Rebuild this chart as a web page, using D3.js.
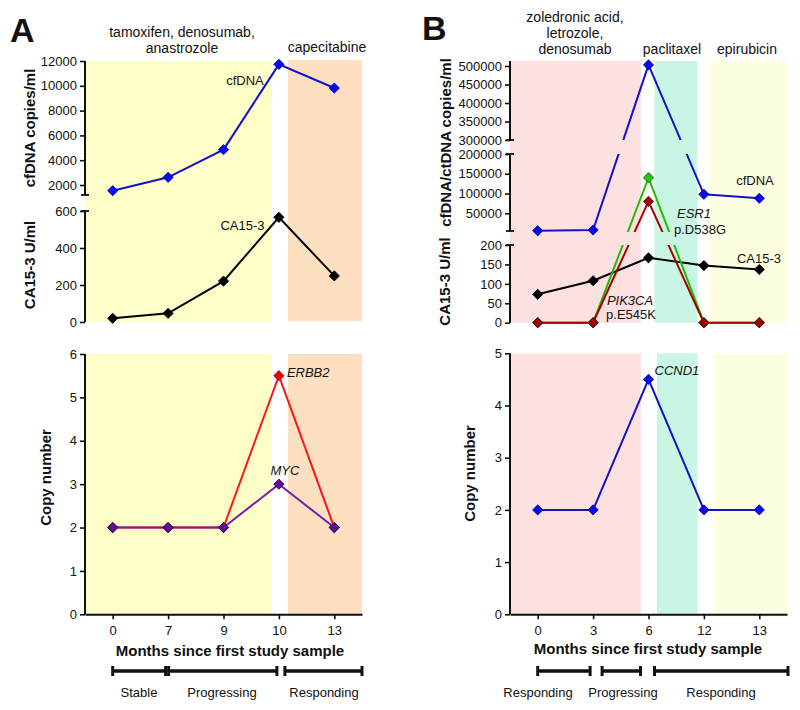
<!DOCTYPE html>
<html><head><meta charset="utf-8">
<script src="https://cdn.jsdelivr.net/npm/d3@7"></script>
<style>body{margin:0;background:#fff}</style>
</head><body><svg id="c" width="800" height="710"></svg>
<script>
// ---------- DATA ----------
const monthsA = ["0","7","9","10","13"];
const cfdnaA = [1540, 2620, 4850, 11730, 9820];
const ca153A = [20, 47, 221, 566, 249];
const erbb2A = [2, 2, 2, 5.5, 2];
const mycA = [2, 2, 2, 3, 2];

const monthsB = ["0","3","6","12","13"];
const cfdnaB = [5900, 7700, 503000, 98000, 88000];
const ca153B = [73, 108, 167, 147, 137];
const esr1B = [0, 0, 140000, 0, 0];
const pik3caB = [0, 0, 80000, 0, 0];
const ccnd1B = [2, 2, 4.5, 2, 2];

const ticksA_cfdna = [2000, 4000, 6000, 8000, 10000, 12000];
const ticksA_ca = [0, 200, 400, 600];
const ticksA_cn = [0, 1, 2, 3, 4, 5, 6];
const ticksB_top = [300000, 350000, 400000, 450000, 500000];
const ticksB_mid = [50000, 100000, 150000, 200000];
const ticksB_ca = [0, 50, 100, 150, 200];
const ticksB_cn = [0, 1, 2, 3, 4, 5];

const treatmentsA = [["tamoxifen, denosumab,", "anastrozole"], ["capecitabine"]];
const treatmentsB = [["zoledronic acid,", "letrozole,", "denosumab"], ["paclitaxel"], ["epirubicin"]];
const statusA = ["Stable", "Progressing", "Responding"];
const statusB = ["Responding", "Progressing", "Responding"];

// ---------- SETUP ----------
const F = '"Liberation Sans", Arial, Helvetica, sans-serif';
const svg = d3.select("#c").style("font-family", F);
const defs = svg.append("defs");

const xA = d3.scalePoint().domain(monthsA).range([85, 362]).padding(0.5);
const xB = d3.scalePoint().domain(monthsB).range([510, 787]).padding(0.5);
// broken axes as piecewise linear scales
const yAtop = d3.scaleLinear().domain([0, 600, 1194, 12000]).range([322, 211, 195, 61]);
const yAcn = d3.scaleLinear().domain([0, 6]).range([614.3, 354]);
const yBtop = d3.scaleLinear().domain([0, 200, 5200, 200000, 300000, 513500]).range([322.7, 245, 231, 154, 140, 61]);
const yBcn = d3.scaleLinear().domain([0, 5]).range([614.3, 353.3]);

const C = {
  yellowA: "#fefec9", orangeA: "#fde0c1", pinkB: "#fde0e0", tealB: "#c9f6e4", yellowB: "#fefee0",
  blue: "#1212c8", blueM: "#0a0aee", red: "#ff1414", redM: "#e60000", purple: "#7420a6", purpleM: "#650c98",
  green: "#22bb00", greenM: "#2ec412", dred: "#a80000", dredM: "#a00000"
};

// clip for broken-axis panel B
const clipB = defs.append("clipPath").attr("id", "clipB");
[[50, 140], [154, 232], [245, 330]].forEach(([a, b]) =>
  clipB.append("rect").attr("x", 500).attr("y", a).attr("width", 300).attr("height", b - a));

function rect(x0, x1, y0, y1, fill) {
  svg.append("rect").attr("x", x0).attr("y", y0).attr("width", x1 - x0).attr("height", y1 - y0).attr("fill", fill);
}
function line(x, y, cats, vals, color, clip) {
  const pts = cats.map((c, i) => [x(c), y(vals[i])]);
  const p = svg.append("path").attr("d", d3.line()(pts)).attr("fill", "none")
    .attr("stroke", color).attr("stroke-width", 2).attr("stroke-linejoin", "miter");
  if (clip) p.attr("clip-path", `url(#${clip})`);
}
function markers(x, y, cats, vals, fill, stroke) {
  svg.append("g").selectAll("path").data(cats.map((c, i) => [x(c), y(vals[i])])).join("path")
    .attr("d", d3.symbol(d3.symbolSquare, 52)())
    .attr("transform", d => `translate(${d[0]},${d[1]}) rotate(45)`)
    .attr("fill", fill).attr("stroke", stroke).attr("stroke-width", 0.8);
}
function text(x, y, s, opts = {}) {
  const t = svg.append("text").attr("x", x).attr("y", y).text(s)
    .attr("font-size", opts.size || 13).attr("text-anchor", opts.anchor || "middle")
    .attr("fill", "#111");
  if (opts.bold) t.attr("font-weight", "bold");
  if (opts.italic) t.attr("font-style", "italic");
  if (opts.rotate) t.attr("transform", `rotate(-90,${x},${y})`);
  return t;
}
function yAxis(x0, scale, ticks, seg, caps) {
  const g = svg.append("g").attr("transform", `translate(${x0},0)`)
    .call(d3.axisLeft(scale).tickValues(ticks).tickSize(5).tickPadding(3).tickFormat(d3.format("d")));
  g.select(".domain").remove();
  g.selectAll(".tick line").attr("stroke", "#111").attr("stroke-width", 1.6);
  g.selectAll(".tick text").attr("font-size", 13).attr("font-family", F).attr("fill", "#111");
  g.append("line").attr("x1", 0).attr("x2", 0).attr("y1", seg[0]).attr("y2", seg[1])
    .attr("stroke", "#111").attr("stroke-width", 2);
  (caps || []).forEach(cy => g.append("line").attr("x1", -4).attr("x2", 4).attr("y1", cy).attr("y2", cy)
    .attr("stroke", "#111").attr("stroke-width", 1.8));
}
function xAxis(y0, scale) {
  const g = svg.append("g").attr("transform", `translate(0,${y0})`)
    .call(d3.axisBottom(scale).tickSize(5).tickPadding(6).tickSizeOuter(0));
  g.select(".domain").attr("stroke", "#111").attr("stroke-width", 2);
  g.selectAll(".tick line").attr("stroke", "#111").attr("stroke-width", 1.6);
  g.selectAll(".tick text").attr("font-size", 13).attr("font-family", F).attr("fill", "#111");
}
function statusBar(a, b, y, label, lx) {
  svg.append("line").attr("x1", a).attr("x2", b).attr("y1", y).attr("y2", y).attr("stroke", "#111").attr("stroke-width", 3.5);
  [a, b].forEach(v => svg.append("line").attr("x1", v).attr("x2", v).attr("y1", y - 5).attr("y2", y + 5)
    .attr("stroke", "#111").attr("stroke-width", 3));
  text(lx, 697, label, { size: 13 });
}

// ---------- PANEL A ----------
const rA = xA.range();
rect(rA[0], xA("10") - 7, 61, 322, C.yellowA);
rect(xA("10") + 9, rA[1], 60, 321, C.orangeA);
rect(rA[0], xA("10") - 7, 354, 614, C.yellowA);
rect(xA("10") + 9, rA[1], 354, 614, C.orangeA);

line(xA, yAtop, monthsA, cfdnaA, C.blue);
line(xA, yAtop, monthsA, ca153A, "#000");
markers(xA, yAtop, monthsA, cfdnaA, C.blueM, "#0000aa");
markers(xA, yAtop, monthsA, ca153A, "#000", "#000");

line(xA, yAcn, monthsA, erbb2A, C.red);
line(xA, yAcn, monthsA, mycA, C.purple);
markers(xA, yAcn, monthsA, erbb2A, C.redM, "#8a0000");
markers(xA, yAcn, monthsA, mycA, C.purpleM, "#2a0040");

yAxis(rA[0], yAtop, ticksA_cfdna, [61, 195], [195]);
yAxis(rA[0], yAtop, ticksA_ca, [211, 322], [211]);
yAxis(rA[0], yAcn, ticksA_cn, [354, 614.3]);
xAxis(614.3, xA);

text(10, 42, "A", { size: 34, bold: true, anchor: "start" });
treatmentsA[0].forEach((s, i) => text(182, 37 + i * 15.5, s, { size: 14 }));
text(327, 52, treatmentsA[1][0], { size: 14 });
text(245, 85, "cfDNA");
text(242.5, 229.5, "CA15-3");
text(xA("10") + 8, 377, "ERBB2", { italic: true, anchor: "start" });
text(xA("10") + 6, 475, "MYC", { italic: true });
text(35, 128, "cfDNA copies/ml", { size: 15, bold: true, rotate: true });
text(35, 265, "CA15-3 U/ml", { size: 15, bold: true, rotate: true });
text(51, 477.5, "Copy number", { size: 15, bold: true, rotate: true });
text(230, 656, "Months since first study sample", { size: 15, bold: true });
statusBar(xA("0"), xA("7") - 2.5, 671, statusA[0], 139);
statusBar(xA("7") + 0.5, xA("10") - 2, 671, statusA[1], 222);
statusBar(xA("10") + 6, rA[1], 671, statusA[2], 324);

// ---------- PANEL B ----------
const rB = xB.range();
rect(rB[0], xB("6") - 7.5, 61, 322.7, C.pinkB);
rect(xB("6") + 6, xB("12") - 6.5, 61, 322.7, C.tealB);
rect(xB("12") + 5, rB[1], 61, 322.7, C.yellowB);
rect(rB[0], xB("6") - 7.5, 353.3, 614, C.pinkB);
rect(xB("6") + 8.5, xB("12") - 6.5, 353.3, 614, C.tealB);
rect(xB("12") + 9, rB[1], 353.3, 614, C.yellowB);

line(xB, yBtop, monthsB, cfdnaB, C.blue, "clipB");
line(xB, yBtop, monthsB, ca153B, "#000", "clipB");
line(xB, yBtop, monthsB, esr1B, C.green, "clipB");
line(xB, yBtop, monthsB, pik3caB, C.dred, "clipB");
markers(xB, yBtop, monthsB, cfdnaB, C.blueM, "#0000aa");
markers(xB, yBtop, monthsB, ca153B, "#000", "#000");
markers(xB, yBtop, monthsB, esr1B, C.greenM, "#0f5a00");
markers(xB, yBtop, monthsB, pik3caB, C.dredM, "#400000");

line(xB, yBcn, monthsB, ccnd1B, C.blue);
markers(xB, yBcn, monthsB, ccnd1B, C.blueM, "#0000aa");

yAxis(rB[0], yBtop, ticksB_top, [61, 140], [140]);
yAxis(rB[0], yBtop, ticksB_mid, [154, 231], [154, 231]);
yAxis(rB[0], yBtop, ticksB_ca, [245, 322.7], [245]);
yAxis(rB[0], yBcn, ticksB_cn, [353.3, 614.3]);
xAxis(614.3, xB);

text(422, 40, "B", { size: 34, bold: true, anchor: "start" });
treatmentsB[0].forEach((s, i) => text(575, 21.5 + i * 16, s, { size: 14 }));
text(672, 53.5, treatmentsB[1][0], { size: 14 });
text(747, 53.5, treatmentsB[2][0], { size: 14 });
text(755, 185, "cfDNA");
text(694, 218, "ESR1", { italic: true });
text(700, 234, "p.D538G");
text(759, 263, "CA15-3");
text(630, 305, "PIK3CA", { italic: true });
text(631, 318.5, "p.E545K");
text(xB("6") + 6, 375, "CCND1", { italic: true, anchor: "start" });
text(451, 142.5, "cfDNA/ctDNA copies/ml", { size: 15, bold: true, rotate: true });
text(450, 281.5, "CA15-3 U/ml", { size: 15, bold: true, rotate: true });
text(475, 473.5, "Copy number", { size: 15, bold: true, rotate: true });
text(648, 654, "Months since first study sample", { size: 15, bold: true });
statusBar(xB("0"), xB("3") - 3, 671, statusB[0], 538);
statusBar(xB("3") + 9, xB("6") - 8, 671, statusB[1], 623);
statusBar(xB("6") + 6, rB[1] + 1, 671, statusB[2], 721);
</script>
</body></html>
